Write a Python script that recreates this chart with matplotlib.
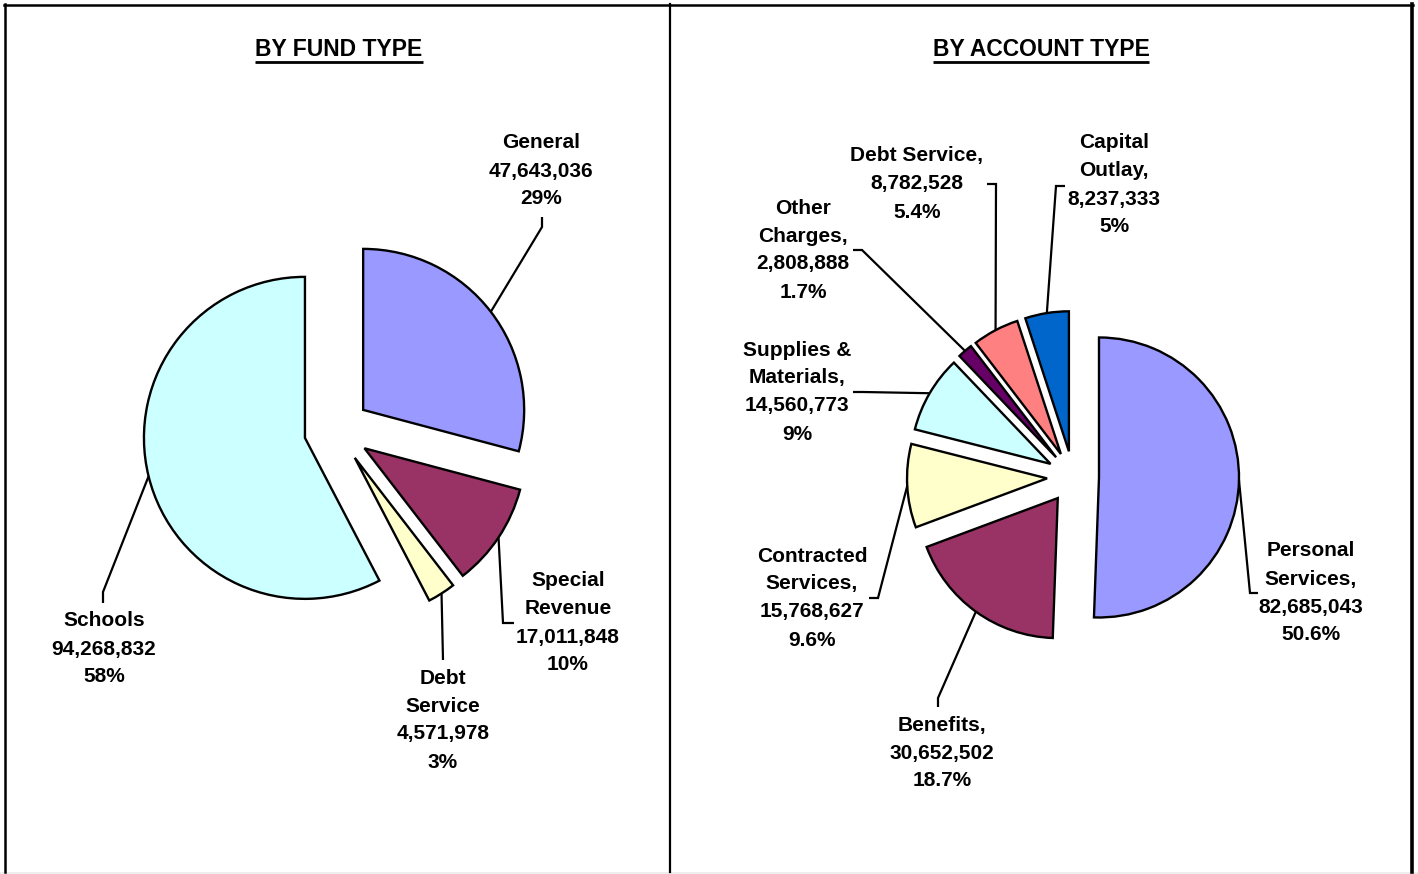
import matplotlib
matplotlib.use("Agg")
import matplotlib.pyplot as plt
import numpy as np

W, H = 1418, 874

# ---------------- data ----------------
fund_labels = ["General", "Special\nRevenue", "Debt\nService", "Schools"]
fund_values = [47643036, 17011848, 4571978, 94268832]
fund_pcts = ["29%", "10%", "3%", "58%"]
fund_colors = ["#9999FF", "#993366", "#FFFFCC", "#CCFFFF"]

acct_labels = ["Personal\nServices,", "Benefits,", "Contracted\nServices,",
               "Supplies &\nMaterials,", "Other\nCharges,", "Debt Service,",
               "Capital\nOutlay,"]
acct_values = [82685043, 30652502, 15768627, 14560773, 2808888, 8782528, 8237333]
acct_pcts = ["50.6%", "18.7%", "9.6%", "9%", "1.7%", "5.4%", "5%"]
acct_colors = ["#9999FF", "#993366", "#FFFFCC", "#CCFFFF", "#660066",
               "#FF8080", "#0066CC"]

titles = ["BY FUND TYPE", "BY ACCOUNT TYPE"]

# ---------------- layout (pixel space, y measured from top) ----------------
FONT = "Liberation Sans"
FS = 15
PITCH = 28

left_center = (337, 430)
left_r = 161
left_expl = 33
right_center = (1073, 477)
right_r = 140
right_expl = 26

# label text: center x, first line y
fund_text_pos = [(541, 143), (568, 581), (443, 678), (104, 621)]
acct_text_pos = [(1311, 551), (942, 725), (812, 556), (797, 350),
                 (803, 208), (917, 156), (1114, 143)]
# leader line label-side points (from label toward pie)
fund_leader = [[(542, 217), (542, 227)],
               [(514, 623), (503, 623)],
               [(443, 660)],
               [(103, 603), (103, 592)]]
acct_leader = [[(1258, 593), (1250, 593)],
               [(938, 707), (938, 698)],
               [(869, 598), (878, 598)],
               [(853, 392), (863, 392)],
               [(853, 250), (862, 250)],
               [(987, 184), (996, 184)],
               [(1065, 186), (1056, 186)]]


def Y(y):
    return H - y


fig = plt.figure(figsize=(W / 100, H / 100), dpi=100)
fig.patch.set_facecolor("white")
ax = fig.add_axes([0, 0, 1, 1])


def draw_pie(values, colors, center, r, expl):
    cx, cy = center
    wedges, _ = ax.pie(values, colors=colors, startangle=90, counterclock=False,
                       explode=[expl] * len(values), radius=r,
                       center=(cx, Y(cy)),
                       wedgeprops=dict(edgecolor="black", linewidth=1.7))
    anchors = []
    for w in wedges:
        th = np.deg2rad((w.theta1 + w.theta2) / 2)
        wx, wy = w.center
        anchors.append((wx + r * np.cos(th), wy + r * np.sin(th)))
    return anchors


def draw_labels(names, values, pcts, text_pos, leaders, anchors):
    for name, v, p, (tx, ty), lead, anc in zip(names, values, pcts, text_pos,
                                                leaders, anchors):
        lines = name.split("\n") + [f"{v:,}", p]
        for i, s in enumerate(lines):
            ax.text(tx, Y(ty + i * PITCH), s, ha="center", va="center",
                    fontsize=FS, fontweight="bold", family=FONT, color="black")
        xs = [q[0] for q in lead] + [anc[0]]
        ys = [Y(q[1]) for q in lead] + [anc[1]]
        ax.plot(xs, ys, color="black", lw=1.6, solid_capstyle="butt",
                solid_joinstyle="miter")


a1 = draw_pie(fund_values, fund_colors, left_center, left_r, left_expl)
a2 = draw_pie(acct_values, acct_colors, right_center, right_r, right_expl)
draw_labels(fund_labels, fund_values, fund_pcts, fund_text_pos, fund_leader, a1)
draw_labels(acct_labels, acct_values, acct_pcts, acct_text_pos, acct_leader, a2)

ax.set_xlim(0, W)
ax.set_ylim(0, H)
ax.set_aspect("auto")
ax.axis("off")

# titles with underline
fig.canvas.draw()
renderer = fig.canvas.get_renderer()
for t, cx in zip(titles, [339, 1041]):
    txt = ax.text(cx, Y(50), t, ha="center", va="center", fontsize=16.5,
                  fontweight="bold", family=FONT)
    bb = txt.get_window_extent(renderer)
    ax.plot([bb.x0, bb.x1], [Y(62), Y(62)], color="black", lw=2.0,
            solid_capstyle="butt")

# panel frames
ax.plot([5, 5], [Y(4), Y(872)], color="black", lw=1.8)
ax.plot([4, 1413], [Y(5), Y(5)], color="black", lw=1.8)
ax.plot([670, 670], [Y(4), Y(872)], color="black", lw=1.6)
ax.plot([1412, 1412], [Y(4), Y(872)], color="black", lw=2.6)
ax.fill_between([0, W], [0, 0], [2.5, 2.5], color="#EEEEEE", lw=0)

fig.savefig("out.png", dpi=100)
